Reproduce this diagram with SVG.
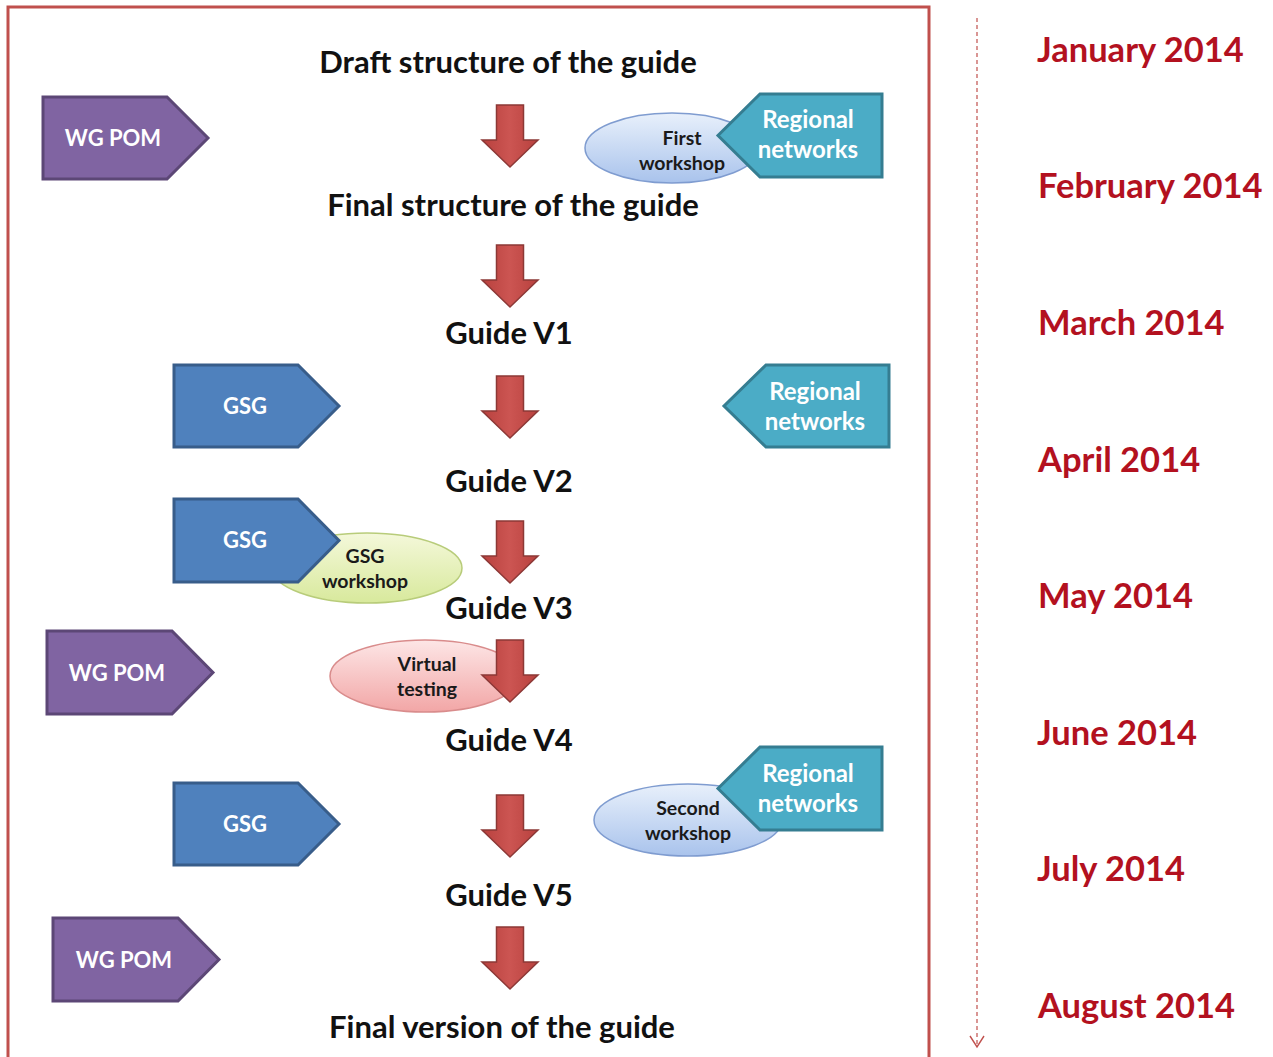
<svg xmlns="http://www.w3.org/2000/svg" width="1273" height="1057" viewBox="0 0 1273 1057">
<defs>
<style>
.main{font-family:Lato,"Liberation Sans",sans-serif;font-weight:bold;font-size:31px;fill:#111;text-anchor:middle}
.month{font-family:Lato,"Liberation Sans",sans-serif;font-weight:bold;font-size:34.5px;fill:#b3111f}
.tag{font-family:Lato,"Liberation Sans",sans-serif;font-weight:bold;font-size:22px;fill:#fff;text-anchor:middle}
.rtag{font-family:Lato,"Liberation Sans",sans-serif;font-weight:bold;font-size:24px;fill:#fff;text-anchor:middle}
.ell{font-family:Lato,"Liberation Sans",sans-serif;font-weight:bold;font-size:19.5px;fill:#1a1a1a;text-anchor:middle}
.purple{fill:#8064a2;stroke:#5c4776;stroke-width:3}
.blue{fill:#4f81bd;stroke:#385d8a;stroke-width:3}
.teal{fill:#4bacc6;stroke:#357d91;stroke-width:3}
.arrow{fill:url(#gRed);stroke:#8c3836;stroke-width:1.5}
</style>
<linearGradient id="gRed" x1="0" y1="0" x2="1" y2="0">
<stop offset="0" stop-color="#b8413e"/><stop offset="0.5" stop-color="#cc5552"/><stop offset="1" stop-color="#b8413e"/>
</linearGradient>
<linearGradient id="gBlueE" x1="0" y1="0" x2="0" y2="1">
<stop offset="0" stop-color="#e8f0fb"/><stop offset="1" stop-color="#a9c3ec"/>
</linearGradient>
<linearGradient id="gGreenE" x1="0" y1="0" x2="0" y2="1">
<stop offset="0" stop-color="#f4f8da"/><stop offset="1" stop-color="#d8e99c"/>
</linearGradient>
<linearGradient id="gPinkE" x1="0" y1="0" x2="0" y2="1">
<stop offset="0" stop-color="#fde6e6"/><stop offset="1" stop-color="#f2a6a6"/>
</linearGradient>
<path id="arr" d="M-13.5 0 H13.5 V35 H28 L0 62 L-28 35 H-13.5 Z"/>
<marker id="openArr" markerWidth="18" markerHeight="18" refX="14" refY="9" orient="auto" markerUnits="userSpaceOnUse">
<path d="M3 2 L14 9 L3 16" fill="none" stroke="#c0504d" stroke-width="1.4"/>
</marker>
</defs>
<rect width="1273" height="1057" fill="#fff"/>

<g id="frame">
<rect x="8" y="7" width="921" height="1054" fill="none" stroke="#c0504d" stroke-width="3"/>
</g>

<g id="connectors">
<line x1="977" y1="18" x2="977" y2="1047" stroke="#c0504d" stroke-width="1.2" stroke-dasharray="4,3" marker-end="url(#openArr)"/>
<use href="#arr" class="arrow" x="510" y="105"/>
<use href="#arr" class="arrow" x="510" y="245"/>
<use href="#arr" class="arrow" x="510" y="376"/>
<use href="#arr" class="arrow" x="510" y="521"/>
<use href="#arr" class="arrow" x="510" y="795"/>
<use href="#arr" class="arrow" x="510" y="927"/>
</g>

<g id="steps">
<text class="main" x="508" y="73">Draft structure of the guide</text>
<text class="main" x="513" y="216">Final structure of the guide</text>
<text class="main" x="509" y="344">Guide V1</text>
<text class="main" x="509" y="492">Guide V2</text>
<text class="main" x="509" y="619">Guide V3</text>
<text class="main" x="509" y="751">Guide V4</text>
<text class="main" x="509" y="906">Guide V5</text>
<text class="main" x="502" y="1038">Final version of the guide</text>
</g>

<g id="wgpom1">
<path class="purple" d="M43 97 H167 L208 138 L167 179 H43 Z"/>
<text class="tag" x="113" y="146">WG POM</text>
</g>

<g id="firstWorkshop">
<ellipse cx="672" cy="148" rx="87" ry="35" fill="url(#gBlueE)" stroke="#7f9cd0" stroke-width="1.5"/>
<text class="ell" x="682" y="145">First</text>
<text class="ell" x="682" y="170">workshop</text>
</g>

<g id="regional1">
<path class="teal" d="M882 94 H760 L718 135.5 L760 177 H882 Z"/>
<text class="rtag" x="808" y="128">Regional</text>
<text class="rtag" x="808" y="158">networks</text>
</g>

<g id="gsg1">
<path class="blue" d="M174 365 H298 L339 406 L298 447 H174 Z"/>
<text class="tag" x="245" y="414">GSG</text>
</g>

<g id="regional2">
<path class="teal" d="M889 365 H766 L724 406 L766 447 H889 Z"/>
<text class="rtag" x="815" y="400">Regional</text>
<text class="rtag" x="815" y="430">networks</text>
</g>

<g id="gsgWorkshop">
<ellipse cx="367" cy="568" rx="95" ry="35" fill="url(#gGreenE)" stroke="#b8cc7a" stroke-width="1.5"/>
<text class="ell" x="365" y="563">GSG</text>
<text class="ell" x="365" y="588">workshop</text>
</g>

<g id="gsg2">
<path class="blue" d="M174 499 H298 L339 540.5 L298 582 H174 Z"/>
<text class="tag" x="245" y="548">GSG</text>
</g>

<g id="wgpom2">
<path class="purple" d="M47 631 H172 L213 672.5 L172 714 H47 Z"/>
<text class="tag" x="117" y="681">WG POM</text>
</g>

<g id="virtualTesting">
<ellipse cx="425" cy="676" rx="95" ry="36" fill="url(#gPinkE)" stroke="#d98c8c" stroke-width="1.5"/>
<text class="ell" x="427" y="671">Virtual</text>
<text class="ell" x="427" y="696">testing</text>
</g>
<use href="#arr" class="arrow" x="510" y="640"/>

<g id="gsg3">
<path class="blue" d="M174 783 H298 L339 824 L298 865 H174 Z"/>
<text class="tag" x="245" y="832">GSG</text>
</g>

<g id="secondWorkshop">
<ellipse cx="688" cy="820" rx="94" ry="36" fill="url(#gBlueE)" stroke="#7f9cd0" stroke-width="1.5"/>
<text class="ell" x="688" y="815">Second</text>
<text class="ell" x="688" y="840">workshop</text>
</g>

<g id="regional3">
<path class="teal" d="M882 747 H760 L718 788.5 L760 830 H882 Z"/>
<text class="rtag" x="808" y="782">Regional</text>
<text class="rtag" x="808" y="812">networks</text>
</g>

<g id="wgpom3">
<path class="purple" d="M53 918 H178 L219 959.5 L178 1001 H53 Z"/>
<text class="tag" x="124" y="968">WG POM</text>
</g>

<g id="months">
<text class="month" x="1037" y="62">January 2014</text>
<text class="month" x="1038" y="198">February 2014</text>
<text class="month" x="1038" y="335">March 2014</text>
<text class="month" x="1038" y="472">April 2014</text>
<text class="month" x="1038" y="608">May 2014</text>
<text class="month" x="1037" y="745">June 2014</text>
<text class="month" x="1037" y="881">July 2014</text>
<text class="month" x="1038" y="1018">August 2014</text>
</g>
</svg>
